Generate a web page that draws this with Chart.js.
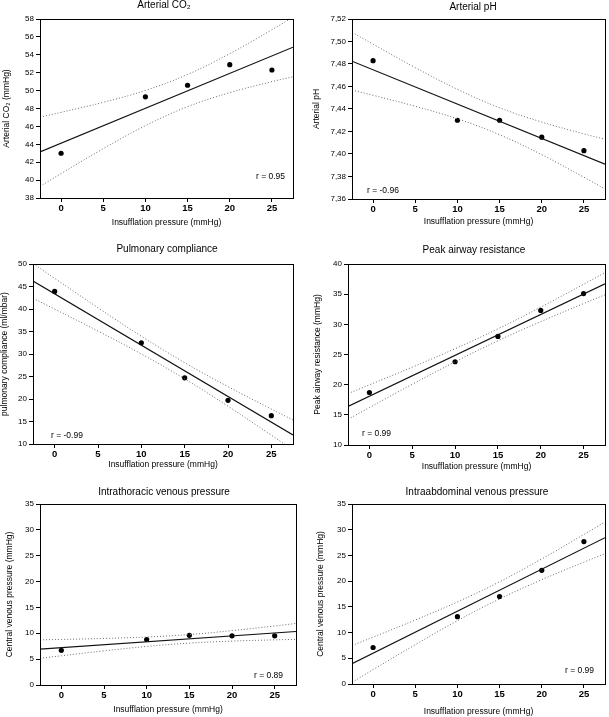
<!DOCTYPE html>
<html>
<head>
<meta charset="utf-8">
<script src="https://cdn.jsdelivr.net/npm/chart.js@4.4.1/dist/chart.umd.min.js"></script>
<style>
html,body{margin:0;padding:0;background:#fff;}
body{width:609px;height:717px;position:relative;overflow:hidden;}
canvas{position:absolute;}
</style>
</head>
<body>
<canvas id="c1"></canvas>
<canvas id="c2"></canvas>
<canvas id="c3"></canvas>
<canvas id="c4"></canvas>
<canvas id="c5"></canvas>
<canvas id="c6"></canvas>
<script>
// ---------- DATA ----------
const pressure = [0, 10, 15, 20, 25];          // insufflation pressure (mmHg)
const xTicks = [0, 5, 10, 15, 20, 25];
const fitX = [-2.5, 27.5];
const bandX = [-2.5, 0, 5, 10, 15, 20, 25, 27.5];

// Arterial CO2
const co2 = [43.0, 49.3, 50.6, 52.9, 52.3];
const co2Fit = [43.15, 54.85];
const co2Upper = [47.04, 47.57, 48.69, 50.02, 51.80, 54.13, 56.80, 58.21];
const co2Lower = [39.30, 40.73, 43.51, 46.08, 48.20, 49.77, 51.00, 51.55];
const co2Ticks = [38, 40, 42, 44, 46, 48, 50, 52, 54, 56, 58];

// Arterial pH
const ph = [7.483, 7.430, 7.430, 7.415, 7.403];
const phFit = [7.4825, 7.3910];
const phUpper = [7.5082, 7.4976, 7.4768, 7.4575, 7.4411, 7.4284, 7.4179, 7.4131];
const phLower = [7.4568, 7.4522, 7.4424, 7.4313, 7.4171, 7.3994, 7.3793, 7.3689];
const phTicks = [7.36, 7.38, 7.40, 7.42, 7.44, 7.46, 7.48, 7.50, 7.52];

// Pulmonary compliance
const compliance = [43.9, 32.5, 24.7, 19.7, 16.3];
const complianceFit = [46.2, 12.0];
const complianceUpper = [50.12, 46.82, 40.28, 33.95, 28.08, 22.75, 17.76, 15.34];
const complianceLower = [42.38, 39.98, 35.10, 30.01, 24.48, 18.39, 11.96, 8.68];
const complianceTicks = [10, 15, 20, 25, 30, 35, 40, 45, 50];

// Peak airway resistance
const resistance = [18.7, 23.8, 28.0, 32.3, 35.1];
const resistanceFit = [16.4, 36.7];
const resistanceUpper = [18.52, 19.97, 22.90, 25.96, 29.25, 32.85, 36.64, 38.57];
const resistanceLower = [14.26, 16.21, 20.06, 23.78, 27.27, 30.45, 33.44, 34.91];
const resistanceTicks = [10, 15, 20, 25, 30, 35, 40];

// Intrathoracic venous pressure
const thoracicCvp = [6.7, 8.8, 9.6, 9.5, 9.5];
const thoracicFit = [6.95, 10.35];
const thoracicUpper = [8.73, 8.81, 9.00, 9.28, 9.76, 10.51, 11.41, 11.90];
const thoracicLower = [5.15, 5.65, 6.60, 7.46, 8.10, 8.49, 8.73, 8.82];

// Intraabdominal venous pressure
const abdominalCvp = [7.1, 13.1, 17.0, 22.1, 27.7];
const abdominalFit = [3.95, 28.45];
const abdominalUpper = [7.49, 9.11, 12.44, 15.95, 19.88, 24.32, 29.08, 31.51];
const abdominalLower = [0.33, 2.79, 7.64, 12.31, 16.54, 20.28, 23.70, 25.35];
const cvpTicks = [0, 5, 10, 15, 20, 25, 30, 35];

const xLabel = 'Insufflation pressure (mmHg)';

// ---------- PANELS ----------
const panels = [
  {id:'c1', left:0, top:0, w:304, h:235, area:{l:40,t:19,r:293,b:198},
   title:'Arterial CO₂', titleX:164, titleY:5.5, yTitle:'Arterial CO₂ (mmHg)', yTitleX:7, xTitleY:222.7,
   values:co2, fit:co2Fit, upper:co2Upper, lower:co2Lower, yTicks:co2Ticks, comma:false,
   r:'r = 0.95', rAlign:'right', rX:285, rY:177},
  {id:'c2', left:304, top:0, w:305, h:235, area:{l:48,t:19,r:302,b:199},
   title:'Arterial pH', titleX:169, titleY:7, yTitle:'Arterial pH', yTitleX:13, xTitleY:221.7,
   values:ph, fit:phFit, upper:phUpper, lower:phLower, yTicks:phTicks, comma:true,
   r:'r = -0.96', rAlign:'left', rX:63, rY:191},
  {id:'c3', left:0, top:235, w:304, h:240, area:{l:33,t:29,r:293,b:209},
   title:'Pulmonary compliance', titleX:167, titleY:14, yTitle:'pulmonary compliance (ml/mbar)', yTitleX:4.5, xTitleY:230,
   values:compliance, fit:complianceFit, upper:complianceUpper, lower:complianceLower, yTicks:complianceTicks, comma:false,
   r:'r = -0.99', rAlign:'left', rX:51, rY:201},
  {id:'c4', left:304, top:235, w:305, h:240, area:{l:44,t:29,r:303,b:210},
   title:'Peak airway resistance', titleX:170, titleY:15, yTitle:'Peak airway resistance (mmHg)', yTitleX:14, xTitleY:231.7,
   values:resistance, fit:resistanceFit, upper:resistanceUpper, lower:resistanceLower, yTicks:resistanceTicks, comma:false,
   r:'r = 0.99', rAlign:'left', rX:58, rY:199},
  {id:'c5', left:0, top:475, w:304, h:242, area:{l:40,t:29,r:296,b:210},
   title:'Intrathoracic venous pressure', titleX:164, titleY:17, yTitle:'Central venous pressure (mmHg)', yTitleX:10, xTitleY:235,
   values:thoracicCvp, fit:thoracicFit, upper:thoracicUpper, lower:thoracicLower, yTicks:cvpTicks, comma:false,
   r:'r = 0.89', rAlign:'right', rX:283, rY:201},
  {id:'c6', left:304, top:475, w:305, h:242, area:{l:48,t:29,r:303,b:209},
   title:'Intraabdominal venous pressure', titleX:173, titleY:17, yTitle:'Central venous pressure (mmHg)', yTitleX:17, xTitleY:236.7,
   values:abdominalCvp, fit:abdominalFit, upper:abdominalUpper, lower:abdominalLower, yTicks:cvpTicks, comma:false,
   r:'r = 0.99', rAlign:'right', rX:290, rY:196}
];

const FONT = '"Liberation Sans", Arial, Helvetica, sans-serif';
Chart.defaults.font.family = FONT;
Chart.defaults.color = '#000';

const deco = {
  id: 'panelDeco',
  afterDraw(chart, args, opts) {
    const {ctx, chartArea: a} = chart;
    ctx.save();
    ctx.strokeStyle = '#000';
    ctx.lineWidth = 1;
    const l = Math.round(a.left) + 0.5, t = Math.round(a.top) + 0.5;
    ctx.strokeRect(l, t, Math.round(a.right) - Math.round(a.left), Math.round(a.bottom) - Math.round(a.top));
    ctx.fillStyle = '#000';
    ctx.textBaseline = 'middle';
    ctx.font = '10px ' + FONT;
    ctx.textAlign = 'center';
    ctx.fillText(opts.title, opts.titleX, opts.titleY);
    ctx.font = '8.5px ' + FONT;
    ctx.textAlign = opts.rAlign;
    ctx.fillText(opts.r, opts.rX, opts.rY);
    ctx.restore();
  }
};

function pts(xs, ys) { return xs.map((x, i) => ({x: x, y: ys[i]})); }

panels.forEach(p => {
  const cv = document.getElementById(p.id);
  cv.width = p.w; cv.height = p.h;
  cv.style.left = p.left + 'px'; cv.style.top = p.top + 'px';
  cv.style.width = p.w + 'px'; cv.style.height = p.h + 'px';
  const yMin = p.yTicks[0], yMax = p.yTicks[p.yTicks.length - 1];
  const titleSize = 8.5, titleLH = titleSize * 1.2;
  const band = {showLine:true, pointRadius:0, borderColor:'#6a6a6a', borderWidth:1, borderDash:[1,2], tension:0.4, fill:false};
  new Chart(cv, {
    type: 'scatter',
    data: {
      datasets: [
        Object.assign({data: pts(bandX, p.upper)}, band),
        Object.assign({data: pts(bandX, p.lower)}, band),
        {data: pts(fitX, p.fit), showLine:true, pointRadius:0, borderColor:'#111', borderWidth:1.2, fill:false},
        {data: pts(pressure, p.values), showLine:false, pointRadius:2.6, pointBackgroundColor:'#000', pointBorderWidth:0}
      ]
    },
    options: {
      responsive: false,
      animation: false,
      events: [],
      layout: {padding: {left:0, top:p.area.t, right:p.w - p.area.r, bottom:0}},
      plugins: {
        legend: {display:false},
        tooltip: {enabled:false},
        title: {display:false},
        panelDeco: {title:p.title, titleX:p.titleX, titleY:p.titleY, r:p.r, rAlign:p.rAlign, rX:p.rX, rY:p.rY}
      },
      scales: {
        x: {
          type: 'linear', min: -2.5, max: 27.5,
          afterBuildTicks: ax => { ax.ticks = xTicks.map(v => ({value: v})); },
          afterFit: ax => { ax.height = p.h - p.area.b; },
          grid: {drawOnChartArea:false, drawTicks:true, tickLength:4, color:'#000'},
          border: {display:false},
          ticks: {padding:1, color:'#000', font:{size:9.5, weight:'bold'}, maxRotation:0, callback: v => String(v)},
          title: {display:true, text:xLabel, color:'#000', font:{size:titleSize},
                  padding:{top:0, bottom: p.h - titleLH / 2 - p.xTitleY}}
        },
        y: {
          type: 'linear', min: yMin, max: yMax,
          afterBuildTicks: ax => { ax.ticks = p.yTicks.map(v => ({value: v})); },
          afterFit: ax => { ax.width = p.area.l; },
          grid: {drawOnChartArea:false, drawTicks:true, tickLength:4, color:'#000'},
          border: {display:false},
          ticks: {padding:2, color:'#000', font:{size:8},
                  callback: v => p.comma ? Number(v).toFixed(2).replace('.', ',') : String(v)},
          title: {display:true, text:p.yTitle, color:'#000', font:{size:titleSize},
                  padding:{top: p.yTitleX - titleLH / 2, bottom:0}}
        }
      }
    },
    plugins: [deco]
  });
});
</script>
</body>
</html>
